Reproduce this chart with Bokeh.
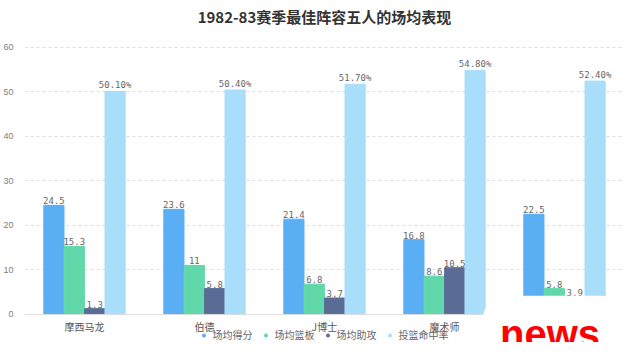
from bokeh.plotting import figure
from bokeh.models import (ColumnDataSource, FactorRange, LabelSet, Legend, LegendItem,
                          Label, Range1d, FixedTicker, Span, BoxAnnotation)
from bokeh.transform import dodge
from bokeh.core.properties import value
from bokeh.embed import file_html
from bokeh.resources import INLINE

# ---- data ----
players = ["摩西马龙", "伯德", "J博士", "魔术师", "蒙克里夫"]
points = [24.5, 23.6, 21.4, 16.8, 22.5]
rebounds = [15.3, 11, 6.8, 8.6, 5.8]
assists = [1.3, 5.8, 3.7, 10.5, 3.9]
fg_pct = [50.1, 50.4, 51.7, 54.8, 52.4]
series_names = ["场均得分", "场均篮板", "场均助攻", "投篮命中率"]
title_text = "1982-83赛季最佳阵容五人的场均表现"
y_ticks = [0, 10, 20, 30, 40, 50, 60]

colors = ["#5AAEF4", "#60D8AA", "#5A6C96", "#A9DEFA"]
offsets = [-0.255, -0.085, 0.085, 0.255]
bar_w = 0.168

def fmt(v):
    return f"{v:g}"

series = [points, rebounds, assists, fg_pct]
labels = [[fmt(v) for v in points], [fmt(v) for v in rebounds],
          [fmt(v) for v in assists], [f"{v:.2f}%" for v in fg_pct]]

FONT = "Noto Sans CJK SC"
Y_MIN = -6.3   # room below the axis for category names and legend
Y_MAX = 70.5   # room above the grid for the title

p = figure(width=624, height=342, x_range=FactorRange(*players, range_padding=0),
           y_range=Range1d(Y_MIN, Y_MAX), output_backend="svg", toolbar_location=None,
           x_axis_location=None,
           min_border_left=16, min_border_right=0, min_border_top=0, min_border_bottom=0)

ticker = FixedTicker(ticks=y_ticks)
p.outline_line_color = None
p.xgrid.grid_line_color = None
p.yaxis.ticker = ticker
p.ygrid.ticker = ticker
p.ygrid.grid_line_color = "#DDDDDD"
p.ygrid.grid_line_dash = "3 3"
p.yaxis.axis_line_color = None
p.yaxis.major_tick_line_color = None
p.yaxis.minor_tick_line_color = None
p.yaxis.major_label_text_font_size = "9px"
p.yaxis.major_label_text_color = "#808080"
p.yaxis.major_label_standoff = 5

# title
p.add_layout(Label(x=2.5, y=60, y_offset=31, text=title_text, text_font=FONT,
                   text_font_size="15px", text_font_style="bold", text_color="#333333",
                   text_align="center", text_baseline="middle"))

# axis baseline at zero
p.add_layout(Span(location=0, dimension="width", line_color="#DDDDDD", line_width=1))

items = []
for i in range(4):
    src = ColumnDataSource(dict(x=players, top=series[i], lab=labels[i]))
    p.vbar(x=dodge("x", offsets[i], range=p.x_range), top="top", width=bar_w, source=src,
           fill_color=colors[i], line_color=colors[i], line_width=1)
    p.add_layout(LabelSet(x=dodge("x", offsets[i], range=p.x_range), y="top", text="lab",
                          source=src, text_align="center", text_baseline="bottom", y_offset=1,
                          text_font_size="9px", text_color="#666666",
                          text_font=value("DejaVu Sans Mono")))
    r = p.scatter(x=[players[0]], y=[-100], marker="circle", size=8,
                  fill_color=colors[i], line_color=colors[i])
    items.append(LegendItem(label=series_names[i], renderers=[r]))

# category names under the baseline
cat_src = ColumnDataSource(dict(x=players, y=[0] * len(players), name=players))
p.add_layout(LabelSet(x="x", y="y", text="name", source=cat_src, text_align="center",
                      text_baseline="top", y_offset=-5, text_font_size="10px",
                      text_color="#555555", text_font=value(FONT)))

legend = Legend(items=items, orientation="horizontal", location="bottom_center",
                label_text_font=FONT, label_text_font_size="10px", label_text_color="#666666",
                glyph_width=8, glyph_height=10, label_standoff=5, spacing=9,
                padding=0, margin=0, border_line_color=None, background_fill_alpha=0)
p.add_layout(legend, "center")

# watermark overlay
p.add_layout(BoxAnnotation(left=3.82, right=5.0, bottom=Y_MIN, top=4.2,
                           fill_color="white", fill_alpha=1, line_color=None,
                           border_radius=40))
p.add_layout(Label(x=4.38, y=-4.4, text="news", text_font="Liberation Sans",
                   text_font_style="bold", text_font_size="40px", text_color="#FF0000",
                   text_align="center", text_baseline="alphabetic"))

open("out.html", "w").write(file_html(p, INLINE))
